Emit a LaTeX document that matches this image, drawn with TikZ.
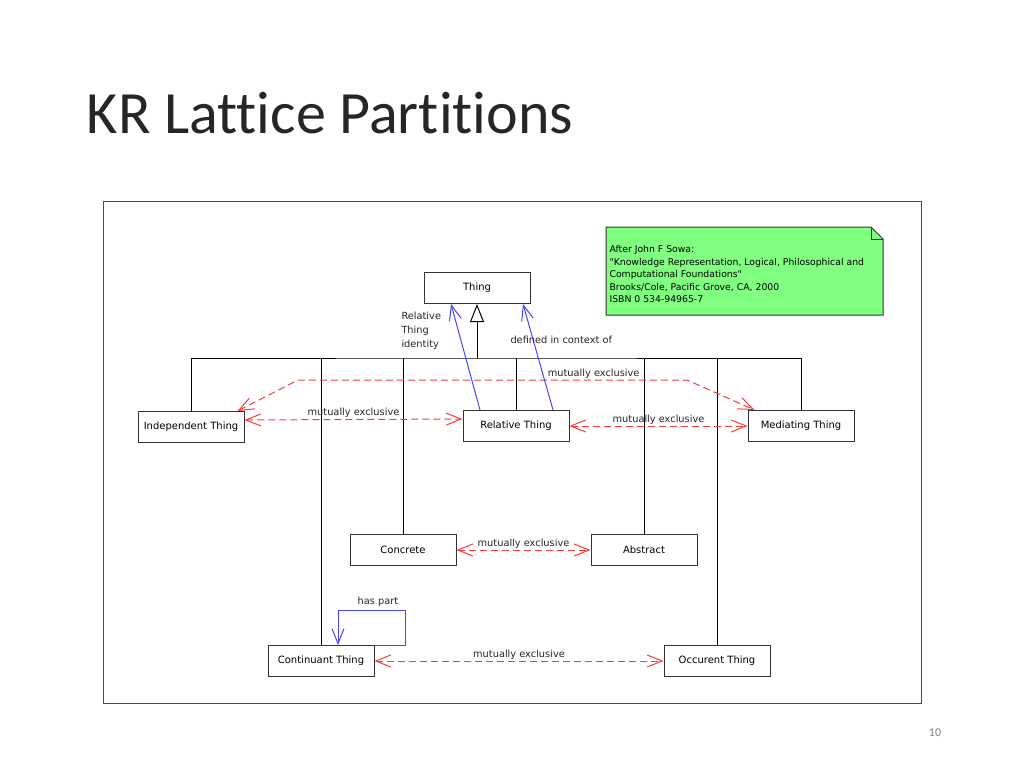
\documentclass[tikz,border=0pt]{standalone}
\usepackage{fontspec}
\setmainfont{Carlito}[Ligatures=NoCommon]
\newfontfamily\umlfont{DejaVu Sans}
\usetikzlibrary{arrows.meta,positioning}
\definecolor{notegreen}{RGB}{128,255,128}
\definecolor{mxred}{RGB}{250,60,60}
\definecolor{relblue}{RGB}{70,70,250}

\begin{document}
\begin{tikzpicture}[
                    x=1pt,
                    y=-1pt,
                    location/.style={
                        rectangle,
                        draw=black!80,
                        fill=white,
                        minimum width=106pt,
                        minimum height=31pt,
                        inner sep=0pt,
                        font=\umlfont\fontsize{10}{11}\selectfont
                    },
                    lbl/.style={
                        font=\umlfont\fontsize{9.8}{14}\selectfont,
                        text=black!85,
                        inner sep=1pt
                    },
                    notetext/.style={
                        font=\umlfont\fontsize{9.3}{12.5}\selectfont,
                        align=left,
                        inner sep=0pt
                    },
                    mutex/.style={
                        draw=mxred,
                        dash pattern=on 7pt off 4pt,
                        <->
                    },
                    relation/.style={
                        draw=relblue,
                        ->
                    },
                    line width=1pt,
                    >={Straight Barb[length=15pt,width=12pt]}
                ]
                \fill[white] (0,0) rectangle (1024,768);
                \useasboundingbox (0,0) rectangle (1024,768);

                \node (title) [anchor=base west, font=\fontsize{60}{72}\selectfont, text=black!85] at (83,133) {KR Lattice Partitions};
                \node (pagenum) [font=\fontsize{12}{14}\selectfont, text=black!50] at (935,733) {10};

                \draw[black!70] (103,201) rectangle (921,703);

                % note
                \filldraw[fill=notegreen, draw=black!80] (606,227) -- (871,227) -- (883,239) -- (883,315) -- (606,315) -- cycle;
                \draw[black!80] (871,227) -- (871,239) -- (883,239);
                \node (note) [notetext, anchor=north west] at (609,245) {After John F Sowa:\\"Knowledge Representation, Logical, Philosophical and\\Computational Foundations"\\Brooks/Cole, Pacific Grove, CA, 2000\\ISBN 0 534-94965-7};

                \node (Thing) [location] at (477,288) {Thing};
                \node (IndThing) [location] at (191,427) {Independent Thing};
                \node (RelThing) [location] at (516,426) {Relative Thing};
                \node (MedThing) [location] at (801,426) {Mediating Thing};
                \node (Concrete) [location] at (403,550) {Concrete};
                \node (Abstract) [location] at (644,550) {Abstract};
                \node (ContThing) [location] at (321,661) {Continuant Thing};
                \node (OccThing) [location] at (717,661) {Occurent Thing};

                % generalisation tree
                \coordinate (bus) at (477,358);
                \draw (IndThing.north) |- (bus) -| (MedThing.north);
                \draw[-{Triangle[open,length=18pt,width=14pt]}] (bus) -- (Thing.south);
                \foreach \n in {ContThing,Concrete,RelThing,Abstract,OccThing}
                    \draw (\n.north) -- (\n.north |- bus);

                % mutually exclusive
                \coordinate (mxl) at (298,380);
                \coordinate (mxr) at (687,380);
                \path
                ([yshift=7pt]IndThing.east) edge[mutex] node[lbl,above] {mutually exclusive} ([yshift=7pt]RelThing.west)
                (RelThing.east) edge[mutex] node[lbl,above] {mutually exclusive} (MedThing.west)
                (Concrete.east) edge[mutex] node[lbl,above] {mutually exclusive} (Abstract.west)
                (ContThing.east) edge[mutex] node[lbl,above] {mutually exclusive} (OccThing.west)
                ;
                \draw[mutex] ([xshift=-7pt]IndThing.north east) -- (mxl) -- node[lbl,above,pos=0.76] {mutually exclusive} (mxr) -- ([xshift=7pt]MedThing.north west);

                % relations
                \path
                ([xshift=-36pt]RelThing.north) edge[relation] ([xshift=-26pt]Thing.south)
                ([xshift=37pt]RelThing.north) edge[relation] ([xshift=46pt]Thing.south)
                ;
                \node (identity) [lbl, align=left, anchor=north west] at (400,311) {Relative\\Thing\\identity};
                \node (context) [lbl, anchor=west] at (509,340) {defined in context of};

                \coordinate (loop) at (405,610);
                \draw[relation] (ContThing.north east) -| (loop) -| ([xshift=17pt]ContThing.north);
                \node (haspart) [lbl, above] at (378,608) {has part};
            \end{tikzpicture}
\end{document}
